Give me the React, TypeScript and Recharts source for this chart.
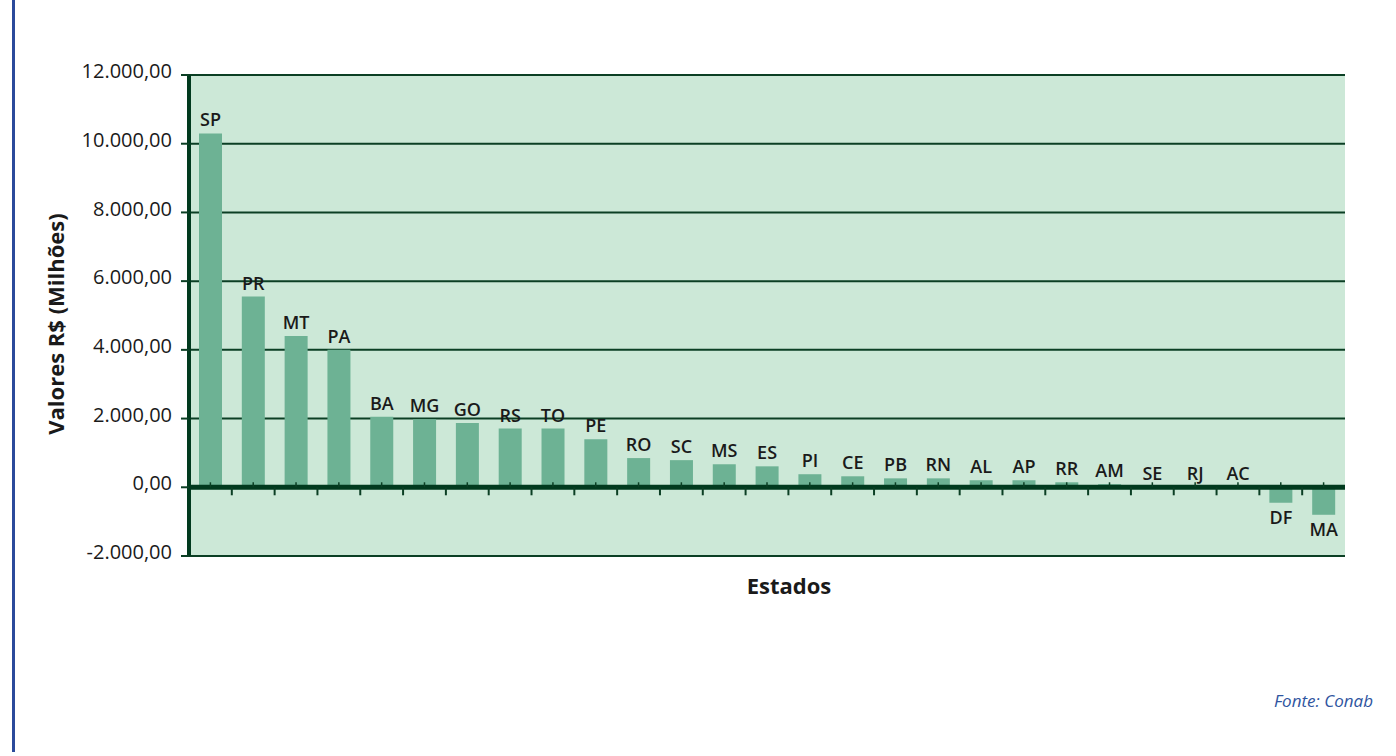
import { BarChart, Bar, XAxis, YAxis, CartesianGrid, ReferenceLine, LabelList } from 'recharts';

const UFS = [
  'SP', 'PR', 'MT', 'PA', 'BA', 'MG', 'GO', 'RS', 'TO', 'PE', 'RO', 'SC', 'MS', 'ES',
  'PI', 'CE', 'PB', 'RN', 'AL', 'AP', 'RR', 'AM', 'SE', 'RJ', 'AC', 'DF', 'MA',
];

const VALORES = [
  10300, 5550, 4400, 4000, 2050, 1980, 1870, 1710, 1710, 1400, 850, 790, 670, 610,
  380, 320, 260, 260, 205, 205, 145, 90, 15, 10, 5, -450, -800,
];

const Y_TICKS = [-2000, 0, 2000, 4000, 6000, 8000, 10000, 12000];

const data = UFS.map((uf, i) => ({ uf, valor: VALORES[i] }));

const DARK = '#0b3f24';
const FONT = '"Open Sans", "DejaVu Sans", sans-serif';

function formatBR(v: number) {
  const [int, dec] = Math.abs(v).toFixed(2).split('.');
  const withDots = int.replace(/\B(?=(\d{3})+(?!\d))/g, '.');
  return (v < 0 ? '-' : '') + withDots + ',' + dec;
}

// zero line with the small category ticks Excel draws on it
function ZeroLine(props: any) {
  const { x1, y1, x2 } = props;
  const n = data.length;
  const step = (x2 - x1) / n;
  const marks = [];
  for (let i = 1; i < n; i++) {
    const bx = x1 + i * step;
    marks.push(<line key={'b' + i} x1={bx} x2={bx} y1={y1} y2={y1 + 8} stroke={DARK} strokeWidth={2} />);
  }
  for (let i = 0; i < n; i++) {
    const cx = x1 + (i + 0.5) * step;
    marks.push(<line key={'c' + i} x1={cx} x2={cx} y1={y1 - 5} y2={y1} stroke={DARK} strokeWidth={1.5} />);
  }
  return (
    <g>
      <line x1={x1} x2={x2} y1={y1} y2={y1} stroke="#013a1e" strokeWidth={5} />
      {marks}
    </g>
  );
}

function BarLabel(props: any) {
  const { x, y, width, height, index } = props;
  const v = VALORES[index];
  const top = Math.min(y, y + height);
  const bottom = Math.max(y, y + height);
  const ty = v >= 0 ? top - 14 : bottom + 14;
  return (
    <text
      x={x + width / 2}
      y={ty}
      textAnchor="middle"
      dominantBaseline="central"
      fontFamily={FONT}
      fontWeight={600}
      fontSize={18}
      fill="#1a1a1a"
    >
      {UFS[index]}
    </text>
  );
}

export default function App() {
  return (
    <div style={{ position: 'absolute', left: 0, top: 0, width: 1396, height: 756, background: '#fff' }}>
      <div style={{ position: 'absolute', left: 12, top: 0, width: 3, height: 752, background: '#2b4a9b' }} />
      <BarChart
        width={1396}
        height={756}
        data={data}
        margin={{ top: 75, right: 51, bottom: 140, left: 89 }}
        barSize={23}
      >
        <CartesianGrid vertical={false} stroke={DARK} strokeWidth={2} fill="#cce8d7" fillOpacity={1} />
        <XAxis
          dataKey="uf"
          tick={false}
          tickLine={false}
          axisLine={false}
          height={60}
          label={{ value: 'Estados', position: 'center', dx: 22, style: { fontFamily: FONT, fontWeight: 700, fontSize: 22, fill: '#1a1a1a' } }}
        />
        <YAxis
          width={100}
          domain={[-2000, 12000]}
          ticks={Y_TICKS}
          interval={0}
          tickFormatter={formatBR}
          tick={{ fill: '#1a1a1a', fontSize: 20, fontFamily: FONT, dy: -4 }}
          tickSize={8}
          tickMargin={9}
          tickLine={{ stroke: DARK, strokeWidth: 2 }}
          axisLine={{ stroke: '#013a1e', strokeWidth: 4 }}
        />
        <Bar dataKey="valor" fill="#6db294" isAnimationActive={false}>
          <LabelList dataKey="uf" content={BarLabel} />
        </Bar>
        <ReferenceLine y={0} shape={ZeroLine} />
      </BarChart>
      <div
        style={{
          position: 'absolute',
          left: 55 - 160,
          top: 324 - 16,
          width: 320,
          height: 32,
          lineHeight: '32px',
          textAlign: 'center',
          transform: 'rotate(-90deg)',
          fontFamily: FONT,
          fontWeight: 700,
          fontSize: 22,
          color: '#1a1a1a',
          whiteSpace: 'nowrap',
        }}
      >
        Valores R$ (Milhões)
      </div>
      <div
        style={{
          position: 'absolute',
          right: 23,
          top: 689,
          fontFamily: FONT,
          fontStyle: 'italic',
          fontSize: 17,
          color: '#2f55a0',
        }}
      >
        Fonte: Conab
      </div>
    </div>
  );
}
